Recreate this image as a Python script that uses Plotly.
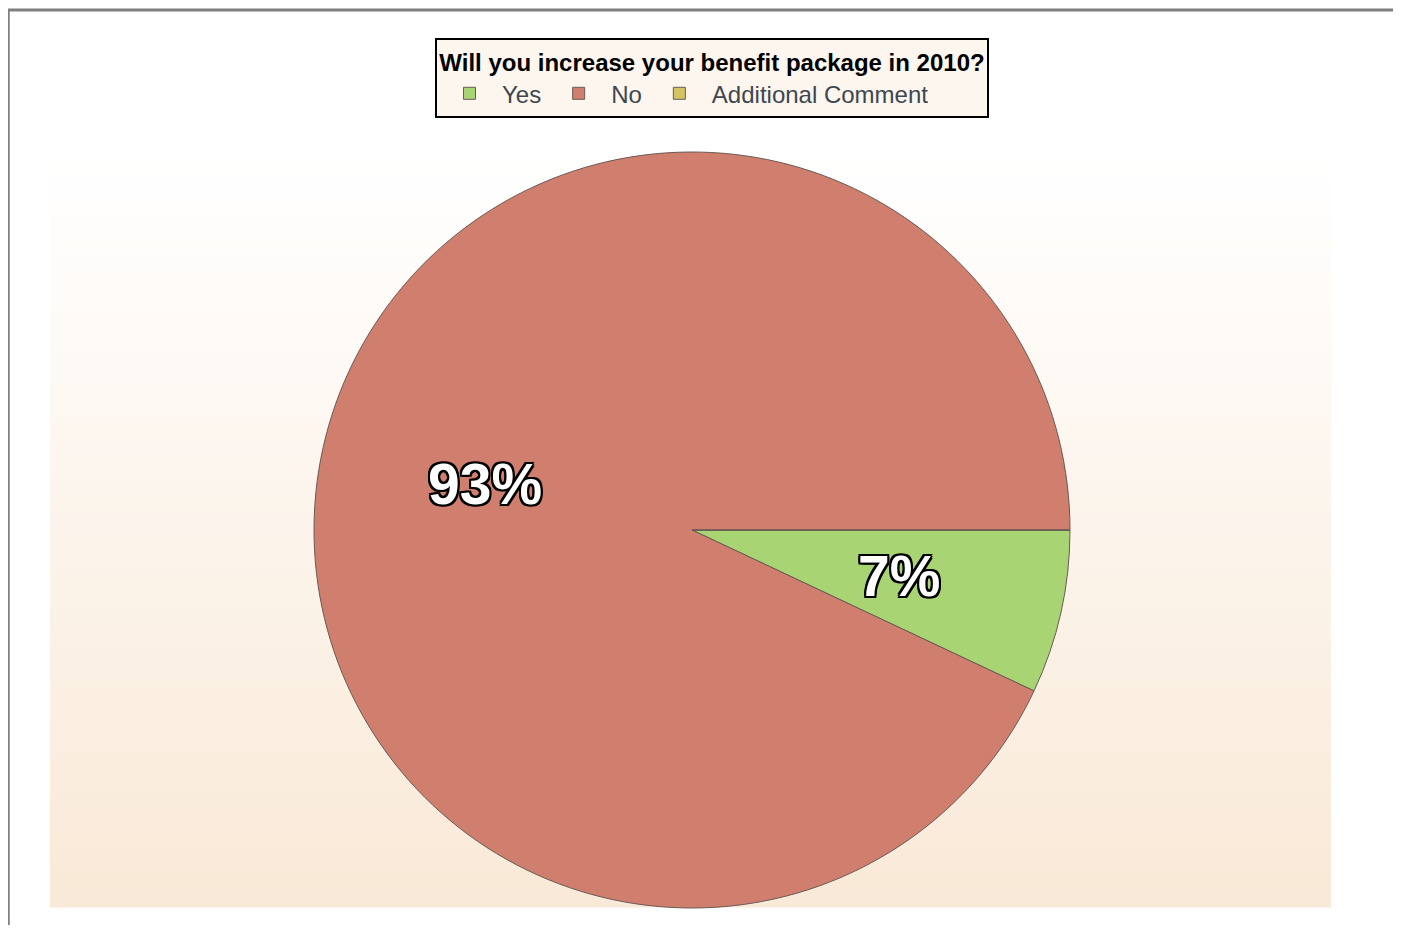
import math
import plotly.graph_objects as go

# ---- data ----
labels = ["Yes", "No", "Additional Comment"]
values = [7, 93, 0]
title_text = "Will you increase your benefit package in 2010?"

# ---- styling ----
slice_colors = ["#a8d473", "#d07e6d", "#d6c464"]
# page body has an 8px margin; the figure is placed inside it
OFF = 8
W, H = 1401 - 2 * OFF, 933 - 2 * OFF

def px_x(v):
    return (v - OFF) / W

def px_y(v):
    return 1 - (v - OFF) / H

CX, CY, R = 692, 530, 378

fig = go.Figure()

fig.add_trace(go.Pie(
    labels=labels,
    values=values,
    sort=False,
    direction="clockwise",
    rotation=90,
    marker=dict(colors=slice_colors, line=dict(color="#6b5a55", width=1)),
    textinfo="none",
    hoverinfo="label+percent",
    domain=dict(x=[px_x(CX - R), px_x(CX + R)], y=[px_y(CY + R), px_y(CY - R)]),
    showlegend=True,
))

# percentage labels, placed at the middle angle of each slice
label_font = dict(family="Liberation Sans, Arial, sans-serif", size=57, color="white",
                  weight="bold",
                  shadow="-2px -2px 0 #000, 2px -2px 0 #000, -2px 2px 0 #000, 2px 2px 0 #000, "
                         "0 2px 0 #000, 0 -2px 0 #000, 2px 0 0 #000, -2px 0 0 #000")
total = sum(values)
annotations = []
start = 0.0
for lab, v in zip(labels, values):
    frac = v / total
    mid = start + frac / 2
    start += frac
    if v <= 0:
        continue
    ang = math.radians(-mid * 360)  # start at 3 o'clock, clockwise
    rr = 0.56 * R
    x = CX + rr * math.cos(ang)
    y = CY - rr * math.sin(ang)
    annotations.append(dict(x=px_x(x), y=px_y(y), xref="paper", yref="paper",
                            text="%d%%" % round(frac * 100), showarrow=False,
                            font=label_font, xanchor="center", yanchor="middle"))

# background gradient bands (plot area)
shapes = []
top, bot = 160, 907
n = 40
c0 = (255, 255, 255)
c1 = (249, 233, 215)
for i in range(n):
    t = (i + 0.5) / n
    col = tuple(round(c0[k] + (c1[k] - c0[k]) * t) for k in range(3))
    y0 = top + (bot - top) * i / n
    y1 = top + (bot - top) * (i + 1) / n + 0.5
    shapes.append(dict(type="rect", xref="paper", yref="paper",
                       x0=px_x(50), x1=px_x(1331), y0=px_y(y1), y1=px_y(y0),
                       fillcolor="rgb(%d,%d,%d)" % col, line=dict(width=0), layer="below"))
# outer frame
shapes.append(dict(type="line", xref="paper", yref="paper", x0=0, x1=1.0,
                   y0=px_y(10), y1=px_y(10), line=dict(color="#808080", width=3)))
shapes.append(dict(type="line", xref="paper", yref="paper", x0=0.75 / W, x1=0.75 / W,
                   y0=px_y(9), y1=0, line=dict(color="#808080", width=2)))

fig.update_layout(
    width=W, height=H,
    margin=dict(l=0, r=0, t=0, b=0),
    paper_bgcolor="white",
    plot_bgcolor="white",
    shapes=shapes,
    annotations=annotations,
    legend=dict(
        orientation="h",
        x=px_x(712), xanchor="center",
        y=px_y(38), yanchor="top",
        bgcolor="#fdf6ee",
        bordercolor="#000000",
        borderwidth=2,
        font=dict(family="Liberation Sans, Arial, sans-serif", size=24, color="#3d4750"),
        title=dict(text="<b>" + title_text + "</b>", side="top center",
                   font=dict(family="Liberation Sans, Arial, sans-serif", size=24, color="#000000")),
        itemwidth=55,
        traceorder="normal",
    ),
)

fig.write_html("out.html")
